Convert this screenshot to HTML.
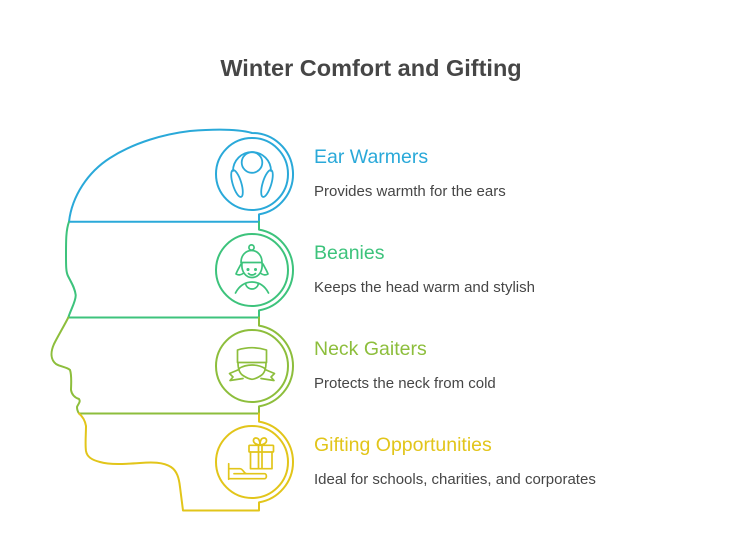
<!DOCTYPE html>
<html><head><meta charset="utf-8"><style>
html,body{margin:0;padding:0;background:#fff;}
svg{display:block;}
text{font-family:"Liberation Sans",Arial,sans-serif;}
</style></head><body>
<svg width="744" height="546" viewBox="0 0 744 546" xmlns="http://www.w3.org/2000/svg">
<rect width="744" height="546" fill="#fff"/>
<text x="371" y="76" text-anchor="middle" font-size="23.5" font-weight="bold" fill="#464646">Winter Comfort and Gifting</text>

<g fill="none" stroke-width="2" stroke-linecap="round" stroke-linejoin="round">
<!-- Blue section -->
<path stroke="#2AA9D9" d="M69,221.7 C72,196 88,172 110,158 C135,142 165,134 190,131 C215,129 238,129 252,133 A41,41 0 0 1 259,214.4 L259,221.7 Z"/>
<!-- Green section -->
<path stroke="#3DC37C" d="M69,221.7 C66,230 66,240 66,255 C66,266 66,272 68,276 C71,282 75,288 75.7,295 C76,301 71,309 68.3,317.5"/>
<path stroke="#3DC37C" d="M259,221.7 L259,229.6 A41,41 0 0 1 259,310.4 L259,317.5 L68.3,317.5"/>
<!-- Lime section -->
<path stroke="#8DBE3C" d="M68.3,317.5 C64,326 58,336 54,344 C50,353 51,360 56,364 C61,367 67,367 70,370 C72,376 71,385 71,390 C72,396 76,398 79,399 C81,402 78,404 77,407 C77,409 78,412 79,413.5"/>
<path stroke="#8DBE3C" d="M259,317.5 L259,325.6 A41,41 0 0 1 259,406.4 L259,413.5 L79,413.5"/>
<!-- Yellow section -->
<path stroke="#E2C51A" d="M79,413.5 C82,416 85,420 86,426 C86,434 85,444 86,451 C87,457 92,460 100,462 C110,465 125,464 140,463 C152,462 163,462 171,467 C177,471 179,478 180,487 C181,495 182,503 183,510.5 L259,510.5 L259,502.4 A41,41 0 0 0 259,421.6 L259,413.5"/>
</g>

<!-- Inner circles -->
<g fill="none" stroke-width="2">
<circle cx="252" cy="174" r="36" stroke="#2AA9D9"/>
<circle cx="252" cy="270" r="36" stroke="#3DC37C"/>
<circle cx="252" cy="366" r="36" stroke="#8DBE3C"/>
<circle cx="252" cy="462" r="36" stroke="#E2C51A"/>
</g>

<!-- Ear warmers icon -->
<g fill="none" stroke="#2AA9D9" stroke-width="1.8" stroke-linecap="round" stroke-linejoin="round">
<circle cx="252" cy="162.5" r="10.3"/>
<path d="M233,171 A19,19 0 0 1 271,171"/>
<ellipse cx="237" cy="183.5" rx="4.3" ry="14" transform="rotate(-17 237 183.5)"/>
<ellipse cx="267" cy="183.5" rx="4.3" ry="14" transform="rotate(17 267 183.5)"/>
</g>

<!-- Beanie icon -->
<g fill="none" stroke="#3DC37C" stroke-width="1.7" stroke-linecap="round" stroke-linejoin="round">
<circle cx="251.5" cy="247.5" r="2.6"/>
<path d="M241,262.5 C241,255 246,250.5 251.5,250.5 C257,250.5 262,255 262,262.5 Z"/>
<path d="M242,263 C241,272 246,277.5 252,277.5 C258,277.5 263,272 262,263"/>
<path d="M241,264 C239,268 237,271 236,274 C238,275.5 241,275 243,273.5"/>
<path d="M263,264 C265,268 267,271 268,274 C266,275.5 263,275 261,273.5"/>
<circle cx="248" cy="269.5" r="0.7" fill="#3DC37C"/>
<circle cx="255.5" cy="269.5" r="0.7" fill="#3DC37C"/>
<path d="M248.5,273.5 C250.5,275.5 253.5,275.5 255.5,273.5"/>
<path d="M235.5,293 C239,286 245,282 252,282 C259,282 265,286 268.5,293"/>
<path d="M245.5,283.2 C246,287 249,289 252,289 C255,289 258,287 258.5,283.2"/>
</g>

<!-- Neck gaiter icon -->
<g fill="none" stroke="#8DBE3C" stroke-width="1.7" stroke-linecap="round" stroke-linejoin="round">
<path d="M237.5,350 C247,347 257,347 266.5,350 L266.5,362.5 L237.5,362.5 Z"/>
<path d="M238,362.5 C238,368 239,373 243,375.5 C246,377.5 249,379 252,379.3 C255,379 258,377.5 261,375.5 C265,373 266,368 266,362.5"/>
<path d="M239,368.5 C243,366 247,365 252,365 C257,365 261,366 265,368.5"/>
<path d="M239,369.5 L229.5,373.5 L233,377 L230,380.5 L243,378.5"/>
<path d="M265,369.5 L274.5,373.5 L271,377 L274,380.5 L261,378.5"/>
</g>

<!-- Gift icon -->
<g fill="none" stroke="#E2C51A" stroke-width="1.7" stroke-linecap="round" stroke-linejoin="round">
<path d="M260,445 C257,445 253,443 253.5,440 C254,437.5 257,437.5 258.5,439 C259.5,440.5 260,443 260,445 Z"/>
<path d="M260,445 C263,445 267,443 266.5,440 C266,437.5 263,437.5 261.5,439 C260.5,440.5 260,443 260,445 Z"/>
<rect x="249" y="445.3" width="24.5" height="6.7" rx="0.8"/>
<path d="M250.5,452 L250.5,468.7 L272,468.7 L272,452"/>
<path d="M258.5,445.3 L258.5,468.7 M262,445.3 L262,468.7"/>
<path d="M228.7,463.7 L228.7,479.3"/>
<path d="M229,468.7 L240,468.7 C243,468.7 244,473.7 246.5,473.7 L264.5,473.7 C267,473.7 267,478.7 264.5,478.7 L229,478.7"/>
<path d="M234,473.7 L246.5,473.7"/>
</g>

<!-- Labels -->
<text x="314" y="163" font-size="19.5" fill="#2AA9D9">Ear Warmers</text>
<text x="314" y="196" font-size="15" fill="#464646">Provides warmth for the ears</text>
<text x="314" y="259" font-size="19.5" fill="#3DC37C">Beanies</text>
<text x="314" y="292" font-size="15" fill="#464646">Keeps the head warm and stylish</text>
<text x="314" y="355" font-size="19.5" fill="#8DBE3C">Neck Gaiters</text>
<text x="314" y="388" font-size="15" fill="#464646">Protects the neck from cold</text>
<text x="314" y="451" font-size="19.5" fill="#E2C51A">Gifting Opportunities</text>
<text x="314" y="484" font-size="15" fill="#464646">Ideal for schools, charities, and corporates</text>
</svg>
</body></html>
